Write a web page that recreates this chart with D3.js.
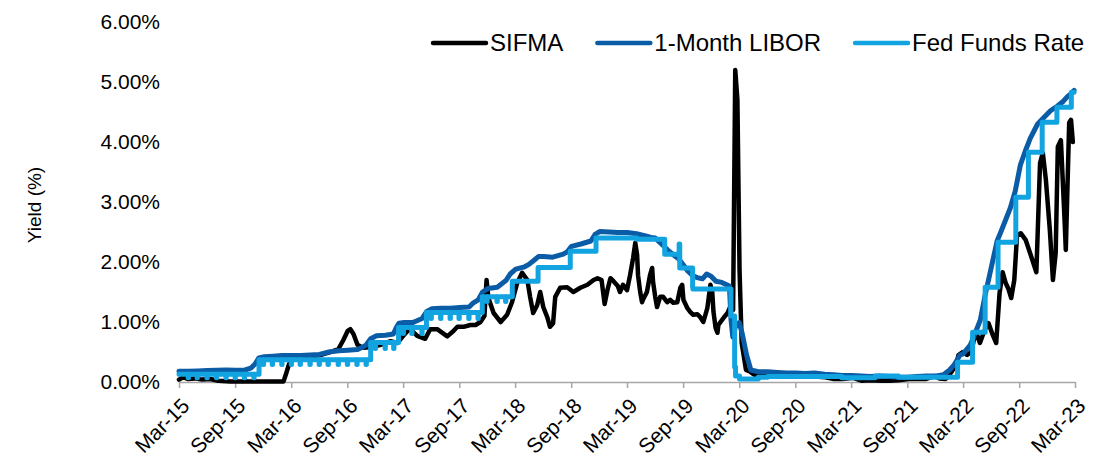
<!DOCTYPE html>
<html>
<head>
<meta charset="utf-8">
<script src="https://cdn.jsdelivr.net/npm/d3@7"></script>
<style>
  html, body { margin: 0; padding: 0; background: #ffffff; }
  svg { display: block; font-family: "Liberation Sans", Arial, Helvetica, sans-serif; }
</style>
</head>
<body>
<svg id="chart" width="1110" height="460"></svg>
<script>
// ---- axis ticks ----
const tickDates = ["2015-03-31","2015-09-30","2016-03-31","2016-09-30","2017-03-31","2017-09-30",
  "2018-03-31","2018-09-30","2019-03-31","2019-09-30","2020-03-31","2020-09-30","2021-03-31",
  "2021-09-30","2022-03-31","2022-09-30","2023-03-31"];
const tickLabels = ["Mar-15","Sep-15","Mar-16","Sep-16","Mar-17","Sep-17","Mar-18","Sep-18",
  "Mar-19","Sep-19","Mar-20","Sep-20","Mar-21","Sep-21","Mar-22","Sep-22","Mar-23"];
const yTicks = [0, 1, 2, 3, 4, 5, 6];

// ---- series ----
const seriesNames = ["SIFMA", "1-Month LIBOR", "Fed Funds Rate"];
const seriesColors = ["#000000", "#0B5CA6", "#12A4E1"];

// SIFMA weekly index (%)
const sifma = [
  ["2015-03-31",0.04],["2015-04-13",0.08],["2015-04-30",0.05],["2015-05-22",0.06],["2015-06-14",0.04],
  ["2015-07-11",0.05],["2015-08-05",0.02],["2015-09-14",0.01],["2015-11-18",0.01],["2016-01-22",0.01],
  ["2016-03-06",0.01],["2016-03-15",0.15],["2016-03-24",0.30],["2016-04-07",0.38],["2016-04-30",0.40],
  ["2016-06-01",0.42],["2016-07-04",0.45],["2016-08-05",0.50],["2016-09-01",0.55],["2016-09-17",0.70],
  ["2016-10-01",0.85],["2016-10-10",0.88],["2016-10-20",0.80],["2016-11-02",0.62],["2016-11-19",0.57],
  ["2016-12-15",0.58],["2017-01-17",0.62],["2017-02-18",0.68],["2017-03-12",0.65],["2017-03-28",0.75],
  ["2017-04-14",0.85],["2017-04-23",0.88],["2017-05-16",0.77],["2017-06-11",0.72],["2017-06-27",0.88],
  ["2017-07-20",0.88],["2017-08-22",0.76],["2017-09-11",0.85],["2017-09-24",0.92],["2017-10-14",0.92],
  ["2017-11-05",0.95],["2017-11-22",0.95],["2017-12-08",1.00],["2017-12-21",1.10],["2017-12-28",1.70],
  ["2018-01-03",1.40],["2018-01-20",1.15],["2018-02-12",1.00],["2018-03-05",1.12],["2018-03-21",1.33],
  ["2018-04-07",1.65],["2018-04-23",1.82],["2018-05-10",1.70],["2018-05-19",1.42],["2018-05-29",1.15],
  ["2018-06-11",1.28],["2018-06-21",1.50],["2018-07-01",1.25],["2018-07-14",1.08],["2018-07-23",0.92],
  ["2018-08-02",0.98],["2018-08-09",1.42],["2018-08-25",1.57],["2018-09-17",1.58],["2018-10-07",1.50],
  ["2018-10-30",1.57],["2018-11-22",1.62],["2018-12-12",1.70],["2018-12-25",1.73],["2019-01-07",1.70],
  ["2019-01-17",1.30],["2019-01-27",1.55],["2019-02-05",1.73],["2019-02-15",1.68],["2019-03-01",1.60],
  ["2019-03-08",1.50],["2019-03-18",1.62],["2019-03-31",1.53],["2019-04-10",1.78],["2019-04-20",2.07],
  ["2019-04-27",2.32],["2019-05-03",2.12],["2019-05-06",1.78],["2019-05-13",1.50],["2019-05-19",1.33],
  ["2019-05-22",1.37],["2019-06-04",1.50],["2019-06-14",1.78],["2019-06-21",1.90],["2019-06-24",1.67],
  ["2019-07-01",1.42],["2019-07-07",1.25],["2019-07-17",1.42],["2019-07-27",1.42],["2019-08-09",1.33],
  ["2019-08-19",1.37],["2019-08-29",1.32],["2019-09-11",1.33],["2019-09-21",1.57],["2019-09-27",1.62],
  ["2019-10-01",1.37],["2019-10-14",1.23],["2019-10-23",1.17],["2019-11-02",1.12],["2019-11-15",1.13],
  ["2019-11-25",1.08],["2019-12-05",1.00],["2019-12-18",1.23],["2019-12-28",1.62],["2020-01-03",1.50],
  ["2020-01-07",1.17],["2020-01-14",0.90],["2020-01-20",0.82],["2020-01-23",0.95],["2020-01-30",1.00],
  ["2020-02-09",1.07],["2020-02-22",1.15],["2020-03-04",1.28],["2020-03-11",1.20],["2020-03-18",5.20],
  ["2020-03-25",4.71],["2020-04-01",1.87],["2020-04-08",0.65],["2020-04-22",0.20],["2020-05-06",0.17],
  ["2020-05-20",0.12],["2020-06-10",0.14],["2020-07-01",0.12],["2020-08-05",0.11],["2020-09-02",0.10],
  ["2020-10-07",0.11],["2020-11-04",0.11],["2020-12-02",0.09],["2021-01-06",0.08],["2021-02-03",0.05],
  ["2021-03-03",0.05],["2021-04-07",0.07],["2021-05-05",0.02],["2021-06-02",0.03],["2021-07-07",0.02],
  ["2021-08-04",0.02],["2021-09-01",0.03],["2021-10-06",0.05],["2021-11-03",0.05],["2021-12-01",0.05],
  ["2021-12-29",0.10],["2022-01-12",0.06],["2022-02-02",0.05],["2022-02-23",0.18],["2022-03-09",0.30],
  ["2022-03-16",0.45],["2022-03-30",0.50],["2022-04-13",0.45],["2022-04-27",0.50],["2022-05-11",0.85],
  ["2022-05-25",0.65],["2022-06-08",0.85],["2022-06-22",0.98],["2022-07-06",0.78],["2022-07-17",0.65],
  ["2022-07-28",1.48],["2022-08-07",1.83],["2022-08-17",1.65],["2022-08-26",1.55],["2022-09-04",1.40],
  ["2022-09-14",1.70],["2022-09-23",2.45],["2022-10-05",2.48],["2022-10-21",2.37],["2022-11-09",2.08],
  ["2022-11-25",1.83],["2022-12-07",3.65],["2022-12-16",3.82],["2022-12-26",3.37],["2023-01-08",2.53],
  ["2023-01-18",1.70],["2023-01-27",2.15],["2023-02-03",3.92],["2023-02-13",4.03],["2023-02-19",3.37],
  ["2023-02-26",2.58],["2023-03-01",2.20],["2023-03-12",4.32],["2023-03-18",4.37],["2023-03-24",4.00]
];

// 1-Month LIBOR (%)
const libor = [
  ["2015-03-31",0.18],["2015-05-01",0.18],["2015-06-01",0.185],["2015-07-01",0.19],["2015-08-01",0.195],
  ["2015-09-01",0.20],["2015-10-01",0.195],["2015-11-01",0.20],["2015-11-20",0.23],["2015-12-04",0.30],
  ["2015-12-16",0.40],["2016-01-04",0.42],["2016-02-01",0.43],["2016-03-01",0.44],["2016-04-01",0.44],
  ["2016-05-01",0.44],["2016-06-01",0.45],["2016-07-01",0.46],["2016-08-01",0.50],["2016-09-01",0.52],
  ["2016-10-01",0.53],["2016-11-01",0.54],["2016-11-15",0.57],["2016-12-01",0.62],["2016-12-15",0.72],
  ["2017-01-03",0.77],["2017-02-01",0.78],["2017-02-27",0.80],["2017-03-08",0.90],["2017-03-17",0.98],
  ["2017-04-03",0.99],["2017-05-01",0.99],["2017-05-15",1.02],["2017-06-01",1.06],["2017-06-15",1.17],
  ["2017-07-03",1.22],["2017-08-01",1.23],["2017-09-01",1.23],["2017-10-02",1.24],["2017-11-01",1.25],
  ["2017-11-15",1.32],["2017-12-01",1.37],["2017-12-15",1.50],["2018-01-02",1.56],["2018-02-01",1.58],
  ["2018-03-01",1.69],["2018-03-15",1.80],["2018-04-02",1.88],["2018-05-01",1.92],["2018-05-15",1.96],
  ["2018-06-01",2.03],["2018-06-15",2.09],["2018-07-02",2.09],["2018-08-01",2.08],["2018-09-04",2.13],
  ["2018-09-17",2.17],["2018-10-01",2.26],["2018-11-01",2.30],["2018-12-03",2.35],["2018-12-17",2.46],
  ["2019-01-02",2.51],["2019-02-01",2.50],["2019-03-01",2.49],["2019-04-01",2.49],["2019-05-01",2.47],
  ["2019-06-03",2.43],["2019-06-17",2.41],["2019-07-01",2.40],["2019-07-15",2.33],["2019-08-01",2.25],
  ["2019-08-15",2.18],["2019-09-03",2.10],["2019-09-16",2.05],["2019-10-01",1.95],["2019-10-15",1.85],
  ["2019-11-01",1.77],["2019-11-15",1.74],["2019-12-02",1.72],["2019-12-16",1.80],["2019-12-31",1.76],
  ["2020-01-15",1.68],["2020-02-03",1.66],["2020-02-28",1.60],["2020-03-04",1.05],["2020-03-10",0.75],
  ["2020-03-20",0.95],["2020-03-31",0.99],["2020-04-10",0.80],["2020-04-24",0.45],["2020-05-08",0.20],
  ["2020-06-01",0.17],["2020-07-01",0.17],["2020-08-03",0.16],["2020-09-01",0.15],["2020-10-01",0.15],
  ["2020-11-02",0.14],["2020-12-01",0.15],["2021-01-04",0.13],["2021-02-01",0.12],["2021-03-01",0.11],
  ["2021-04-01",0.11],["2021-05-03",0.10],["2021-06-01",0.09],["2021-07-01",0.10],["2021-08-02",0.09],
  ["2021-09-01",0.08],["2021-10-01",0.08],["2021-11-01",0.09],["2021-12-01",0.10],["2022-01-03",0.10],
  ["2022-01-26",0.12],["2022-02-15",0.20],["2022-03-01",0.28],["2022-03-21",0.45],["2022-03-31",0.47],
  ["2022-04-24",0.62],["2022-05-10",0.82],["2022-05-26",1.03],["2022-06-11",1.45],["2022-06-21",1.68],
  ["2022-07-07",2.05],["2022-07-20",2.35],["2022-08-05",2.55],["2022-09-01",2.90],["2022-09-17",3.18],
  ["2022-10-04",3.62],["2022-10-20",3.85],["2022-11-05",4.06],["2022-11-29",4.30],["2022-12-18",4.40],
  ["2023-01-10",4.52],["2023-02-02",4.60],["2023-02-21",4.68],["2023-03-07",4.76],["2023-03-17",4.80],
  ["2023-03-28",4.86]
];

// Effective fed funds rate (%): level changes ...
const fedFundsLevels = [
  ["2015-03-31",0.13],["2015-12-17",0.37],["2016-12-15",0.66],["2017-03-16",0.91],["2017-06-15",1.16],
  ["2017-12-14",1.42],["2018-03-22",1.68],["2018-06-14",1.91],["2018-09-27",2.18],["2018-12-20",2.40],
  ["2019-05-02",2.38],["2019-08-01",2.13],["2019-09-17",2.30],["2019-09-19",1.90],["2019-10-31",1.58],
  ["2019-11-01",1.55],["2020-03-04",1.10],["2020-03-16",0.25],["2020-03-19",0.10],["2020-04-01",0.05],
  ["2020-06-01",0.08],["2020-07-01",0.09],["2021-03-01",0.07],["2021-06-17",0.10],["2021-09-01",0.08],
  ["2022-03-13",0.33],["2022-05-01",0.83],["2022-06-11",1.58],["2022-07-23",2.33],["2022-09-19",3.08],
  ["2022-10-30",3.83],["2022-12-14",4.33],["2023-01-31",4.58],["2023-03-19",4.83],["2023-03-28",4.83]
];
// ... and its month-end dips
const fedFundsDips = [
  ["2015-04-30",0.07],["2015-05-29",0.07],["2015-06-30",0.07],["2015-07-31",0.07],["2015-08-31",0.07],
  ["2015-09-30",0.07],["2015-10-30",0.07],["2015-11-30",0.07],["2015-12-31",0.29],["2016-01-29",0.29],
  ["2016-02-29",0.29],["2016-03-31",0.29],["2016-04-29",0.29],["2016-05-31",0.29],["2016-06-30",0.29],
  ["2016-07-29",0.29],["2016-08-31",0.29],["2016-09-30",0.29],["2016-10-31",0.29],["2016-11-30",0.29],
  ["2016-12-30",0.56],["2017-01-31",0.56],["2017-02-28",0.56],["2017-03-31",0.81],["2017-04-28",0.81],
  ["2017-05-31",0.81],["2017-06-30",1.06],["2017-07-31",1.06],["2017-08-31",1.06],["2017-09-29",1.06],
  ["2017-10-31",1.06],["2017-11-30",1.06],["2017-12-29",1.34],["2018-01-31",1.34],["2018-02-28",1.34]
];

// ---- layout ----
const svg = d3.select("#chart");
const parse = d3.timeParse("%Y-%m-%d");
const toPts = arr => arr.map(([d, v]) => [parse(d), v]);

const x = d3.scaleTime()
  .domain([parse("2015-03-31"), parse("2023-03-31")])
  .range([179, 1075]);
const y = d3.scaleLinear().domain([0, 6]).range([382, 22]);

// build the fed funds step series with its one-day month-end dips
const levelPts = toPts(fedFundsLevels);
const levelAt = t => { let v = levelPts[0][1]; for (const [d, val] of levelPts) { if (d <= t) v = val; } return v; };
const ffPts = levelPts.slice();
toPts(fedFundsDips).forEach(([d, v]) => {
  const next = d3.timeDay.offset(d, 1);
  ffPts.push([d, v]);
  ffPts.push([next, levelAt(next)]);
});
ffPts.sort((a, b) => a[0] - b[0]);

const seriesData = [toPts(sifma), toPts(libor), ffPts];
const curves = [d3.curveLinear, d3.curveLinear, d3.curveStepAfter];
const widths = [4.5, 5, 5];

// x axis
const xAxis = svg.append("g")
  .attr("transform", "translate(0,382)")
  .call(d3.axisBottom(x)
    .tickValues(tickDates.map(parse))
    .tickFormat((d, i) => tickLabels[i])
    .tickSizeInner(6).tickSizeOuter(0));
xAxis.select(".domain").attr("stroke", "#A6A6A6").attr("stroke-width", 1.5);
xAxis.selectAll(".tick line").attr("stroke", "#A6A6A6").attr("stroke-width", 1.5);
xAxis.selectAll(".tick text")
  .attr("font-size", 21).attr("fill", "#000")
  .attr("text-anchor", "end")
  .attr("dy", "0.35em")
  .attr("transform", "translate(6,20) rotate(-45)")
  .attr("y", 0).attr("x", 0);

// y axis labels (no axis line)
const yAxis = svg.append("g")
  .attr("transform", "translate(179,0)")
  .call(d3.axisLeft(y).tickValues(yTicks).tickFormat(d => d.toFixed(2) + "%").tickSize(0).tickPadding(19));
yAxis.select(".domain").remove();
yAxis.selectAll(".tick text").attr("font-size", 21).attr("fill", "#000");

// y axis title
svg.append("text")
  .attr("transform", "translate(34,205) rotate(-90)")
  .attr("text-anchor", "middle").attr("dominant-baseline", "central")
  .attr("font-size", 19).attr("fill", "#000")
  .text("Yield (%)");

// lines
const plot = svg.append("g");
seriesData.forEach((pts, i) => {
  plot.append("path")
    .datum(pts)
    .attr("fill", "none")
    .attr("stroke", seriesColors[i])
    .attr("stroke-width", widths[i])
    .attr("stroke-linejoin", "round")
    .attr("stroke-linecap", "round")
    .attr("d", d3.line().x(d => x(d[0])).y(d => y(d[1])).curve(curves[i]));
});

// legend
const legend = svg.append("g").attr("transform", "translate(0,43)");
let lx = 433;
seriesNames.forEach((name, i) => {
  const g = legend.append("g");
  g.append("line").attr("x1", lx).attr("x2", lx + 53).attr("y1", 0).attr("y2", 0)
    .attr("stroke", seriesColors[i]).attr("stroke-width", 4.5).attr("stroke-linecap", "round");
  const t = g.append("text").attr("x", lx + 57).attr("y", 0).attr("dy", "0.35em")
    .attr("font-size", 24).attr("fill", "#000").text(name);
  lx += 57 + t.node().getComputedTextLength() + 34;
});
</script>
</body>
</html>
